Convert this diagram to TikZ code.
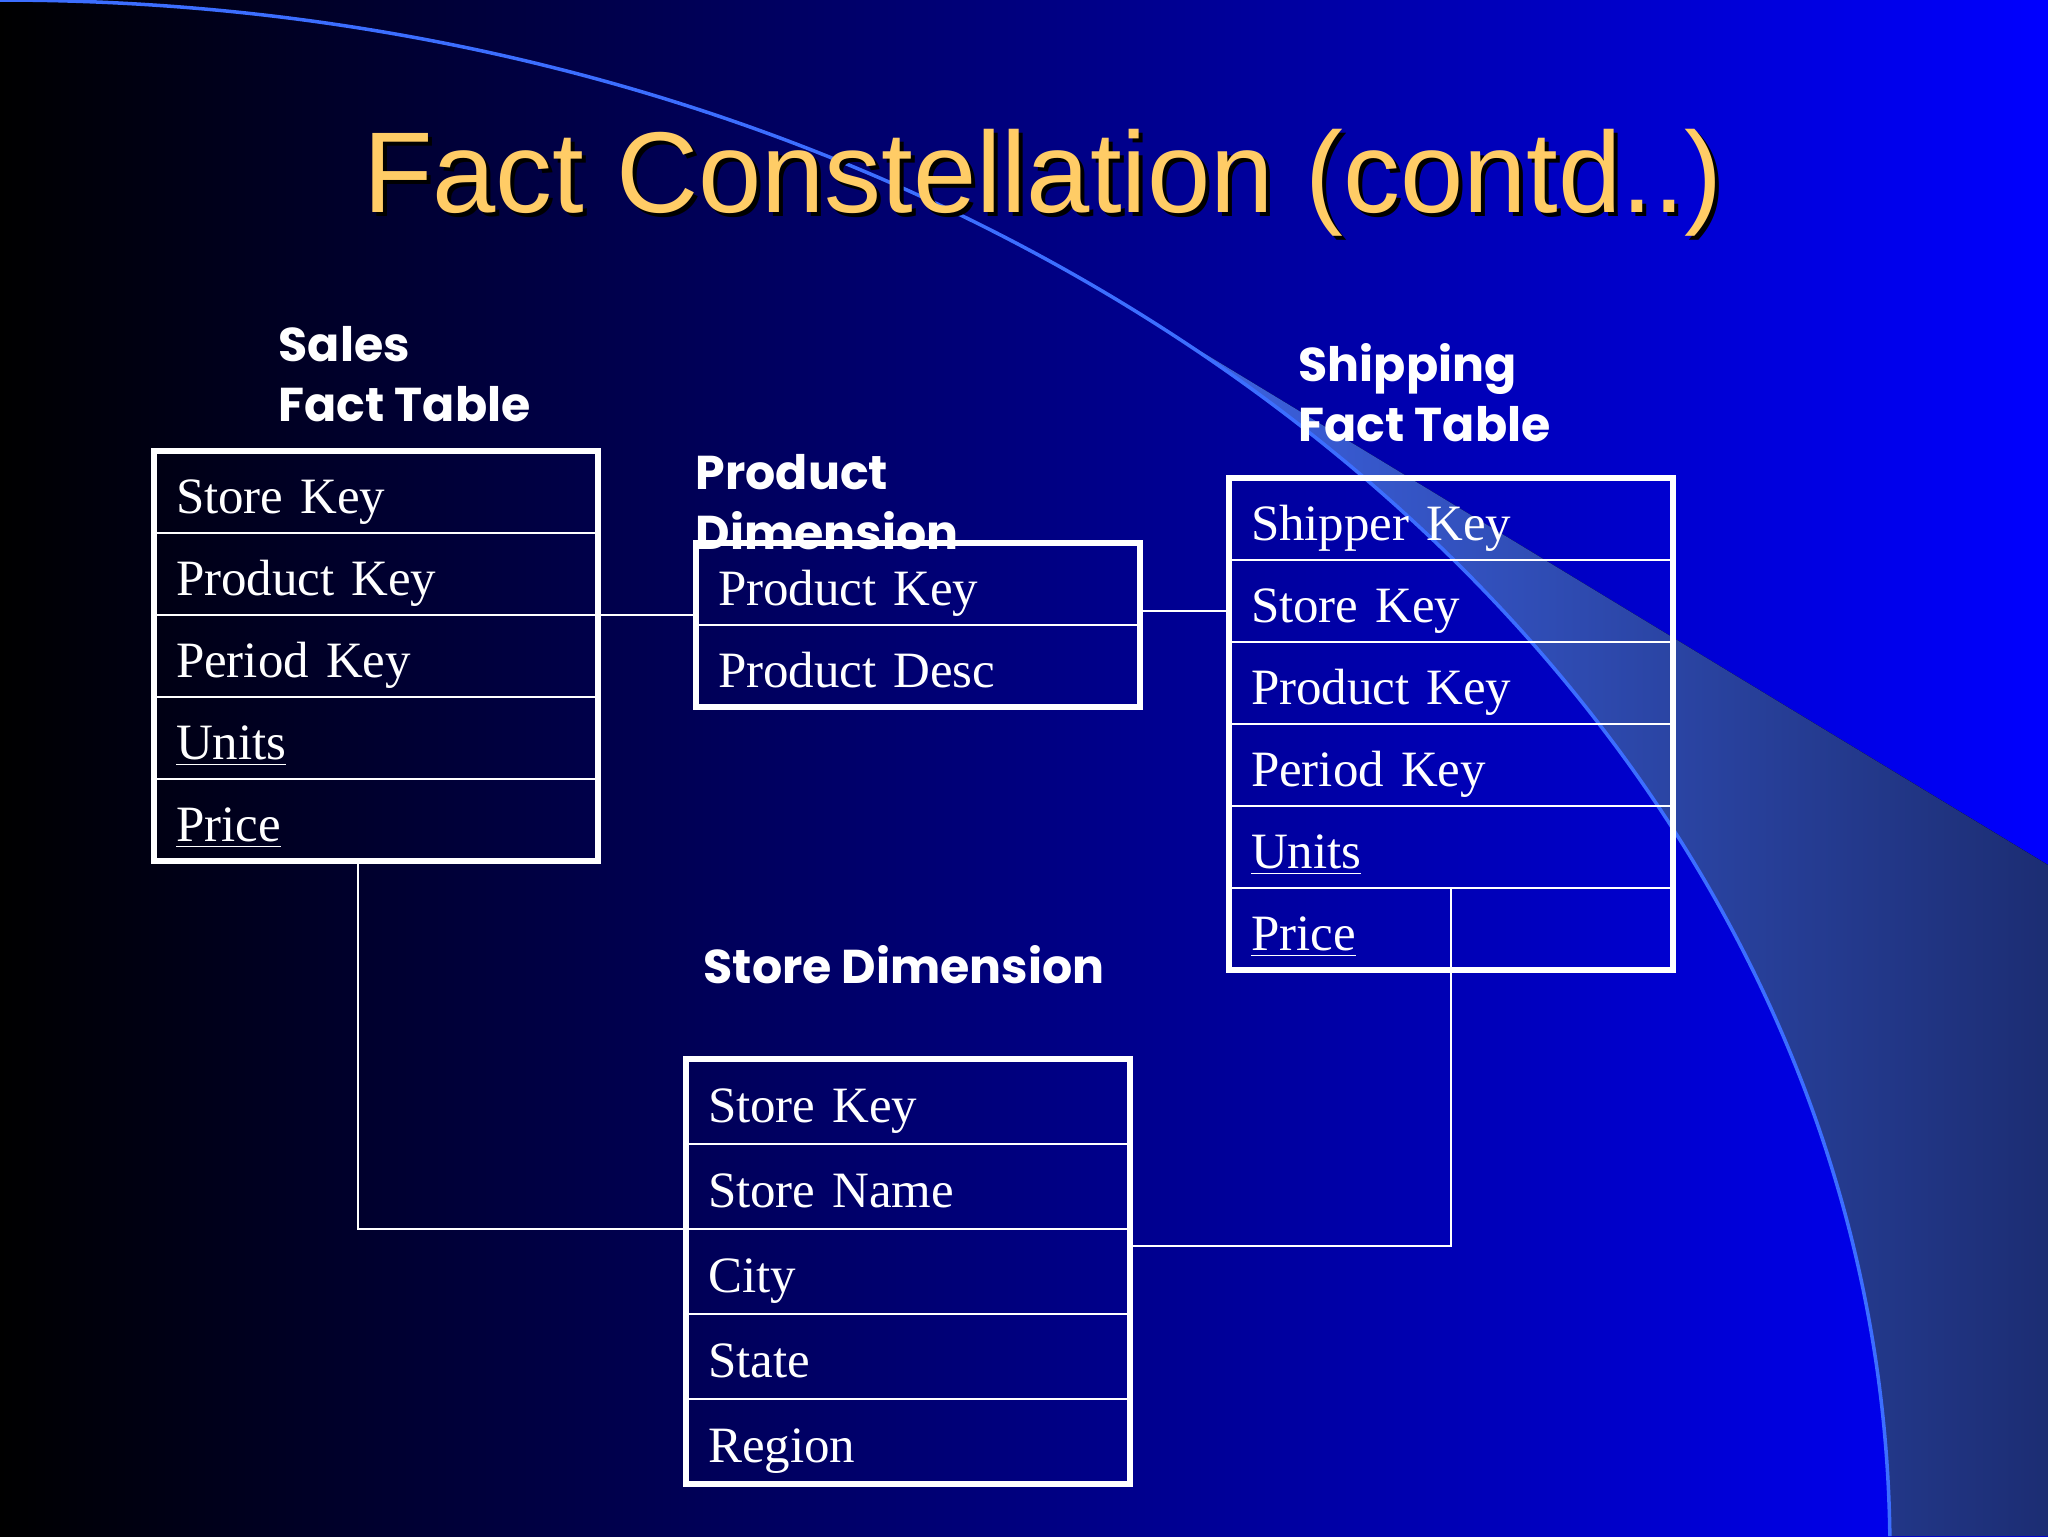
\documentclass[tikz,border=0pt]{standalone}
\usepackage{fontspec}
\usepackage{tikz}
\usetikzlibrary{positioning,calc}

\newfontfamily\titlefont{Liberation Sans}
\newfontfamily\cellfont{Liberation Serif}
\newfontfamily\headfont{Poppins}

\definecolor{titlegold}{RGB}{255,204,102}
\definecolor{slideblue}{RGB}{0,0,255}
\definecolor{slidemid}{RGB}{0,0,150}
\definecolor{arcblue}{RGB}{60,110,255}
\definecolor{wedgelight}{RGB}{65,105,240}
\definecolor{wedgedark}{RGB}{28,45,115}

\begin{document}
\begin{tikzpicture}[
    x=0.1mm, y=-0.1mm,
    node distance=0pt,
    row/.style={rectangle, draw=white, line width=0.8pt, outer sep=0pt,
        text=white, font=\cellfont\fontsize{14.5}{17}\selectfont,
        text width=40mm, inner xsep=2.2mm, minimum height=8.2mm,
        text height=4.2mm, text depth=0mm, align=left},
    storerow/.style={row, minimum height=8.5mm},
    frame/.style={draw=white, line width=1.5pt},
    heading/.style={text=white, font=\headfont\bfseries\fontsize{13.5}{16.8}\selectfont,
        align=left, inner sep=0pt},
    link/.style={draw=white, line width=0.7pt}
]
    % slide background
    \useasboundingbox (0,0) rectangle (2048,1536);
    \fill[left color=black, middle color=slidemid, right color=slideblue] (0,0) rectangle (2048,1536);
    \fill[left color=wedgelight, right color=wedgedark] (1080,278) -- (2048,865) -- (2048,1536)
        -- (1890,1536) arc[start angle=-0.55, end angle=-55.15, x radius=1890, y radius=1551] -- cycle;
    \draw[arcblue, line width=1pt] (0,0) arc[start angle=-90, end angle=-0.55, x radius=1890, y radius=1551];

    % title
    \node[font=\titlefont\fontsize{32.7}{39}\selectfont, text=black, anchor=base, xscale=0.99] (shadow) at (1047,216) {Fact Constellation (contd..)};
    \node[font=\titlefont\fontsize{32.7}{39}\selectfont, text=titlegold, anchor=base, xscale=0.99] (title) at (1043,212) {Fact Constellation (contd..)};

    % headings (base = last line)
    \node[heading, anchor=base west] (saleshead) at (278,421) {Sales\\Fact Table};
    \node[heading, anchor=base west] (prodhead) at (695,549) {Product\\Dimension};
    \node[heading, anchor=base west] (shiphead) at (1298,441) {Shipping\\Fact Table};
    \node[heading, anchor=base west] (storehead) at (703,983) {Store Dimension};

    % sales fact table
    \node[row, anchor=north west] (s1) at (154,451) {Store Key};
    \node[row, below=of s1] (s2) {Product Key};
    \node[row, below=of s2] (s3) {Period Key};
    \node[row, below=of s3] (s4) {\underline{Units}};
    \node[row, below=of s4] (s5) {\underline{Price}};
    \draw[frame] (s1.north west) rectangle (s5.south east);

    % product dimension
    \node[row, anchor=north west] (p1) at (696,543) {Product Key};
    \node[row, below=of p1] (p2) {Product Desc};
    \draw[frame] (p1.north west) rectangle (p2.south east);

    % shipping fact table
    \node[row, anchor=north west] (h1) at (1229,478) {Shipper Key};
    \node[row, below=of h1] (h2) {Store Key};
    \node[row, below=of h2] (h3) {Product Key};
    \node[row, below=of h3] (h4) {Period Key};
    \node[row, below=of h4] (h5) {\underline{Units}};
    \node[row, below=of h5] (h6) {\underline{Price}};
    \draw[frame] (h1.north west) rectangle (h6.south east);

    % store dimension
    \node[storerow, anchor=north west] (t1) at (686,1059) {Store Key};
    \node[storerow, below=of t1] (t2) {Store Name};
    \node[storerow, below=of t2] (t3) {City};
    \node[storerow, below=of t3] (t4) {State};
    \node[storerow, below=of t4] (t5) {Region};
    \draw[frame] (t1.north west) rectangle (t5.south east);

    % links
    \draw[link] (s2.south east) -- (s2.south east -| p1.west);
    \draw[link] ([yshift=-1mm]h2.west -| p1.east) -- ([yshift=-1mm]h2.west);
    \draw[link] ([xshift=-1.8mm]s5.south) |- (t2.south west);
    \draw[link] (h6.north) |- ([yshift=-1.7mm]t3.north east);
\end{tikzpicture}
\end{document}
